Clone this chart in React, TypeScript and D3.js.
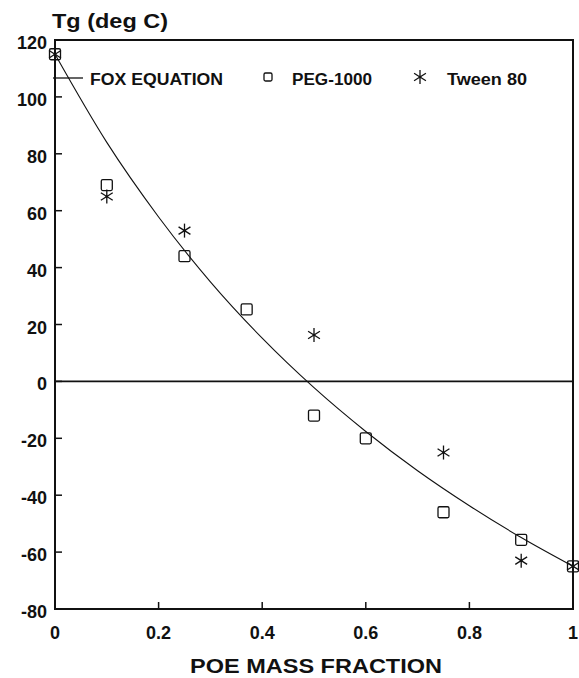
import React from "react";
import * as d3 from "d3";

// ---- data ----
const xTicks = [0, 0.2, 0.4, 0.6, 0.8, 1];
const xTickLabels = ["0", "0.2", "0.4", "0.6", "0.8", "1"];
const yTicks = [120, 100, 80, 60, 40, 20, 0, -20, -40, -60, -80];
const yTickLabels = ["120", "100", "80", "60", "40", "20", "0", "-20", "-40", "-60", "-80"];

const foxX = [0, 0.1, 0.2, 0.3, 0.4, 0.5, 0.6, 0.7, 0.8, 0.9, 1];
const foxY = [115, 84, 57.8, 35, 15.2, -2.2, -17.6, -31.4, -43.7, -54.9, -65];

const pegX = [0, 0.1, 0.25, 0.37, 0.5, 0.6, 0.75, 0.9, 1];
const pegY = [115, 69, 44, 25.3, -12, -20, -46, -55.7, -65];

const tweenX = [0, 0.1, 0.25, 0.5, 0.75, 0.9, 1];
const tweenY = [115, 65, 53, 16.3, -25, -63, -65];

const legendLabels = ["FOX EQUATION", "PEG-1000", "Tween 80"];
const yTitle = "Tg (deg C)";
const xTitle = "POE MASS FRACTION";

const W = 579;
const H = 678;
const M = { left: 55, right: 573, top: 40, bottom: 609 };
const FONT = "'Liberation Sans', Arial, Helvetica, sans-serif";

const Square = ({ x, y, s }: { x: number; y: number; s: number }) => (
  <rect x={x - s / 2} y={y - s / 2} width={s} height={s} rx={1.5} fill="none" stroke="#111" strokeWidth={1.3} />
);

const Star = ({ x, y, r }: { x: number; y: number; r: number }) => {
  const a = (58 * Math.PI) / 180;
  const dx = r * Math.sin(a);
  const dy = r * Math.cos(a);
  return (
    <g stroke="#111" strokeWidth={1.3}>
      <line x1={x} y1={y - r} x2={x} y2={y + r} />
      <line x1={x - dx} y1={y - dy} x2={x + dx} y2={y + dy} />
      <line x1={x - dx} y1={y + dy} x2={x + dx} y2={y - dy} />
      <circle cx={x} cy={y} r={1.3} fill="#111" stroke="none" />
    </g>
  );
};

export default function App() {
  const x = d3.scaleLinear().domain([0, 1]).range([M.left, M.right]);
  const y = d3.scaleLinear().domain([-80, 120]).range([M.bottom, M.top]);

  const foxPts: [number, number][] = foxX.map((v, i) => [v, foxY[i]]);
  const line = d3
    .line<[number, number]>()
    .x((d) => x(d[0]))
    .y((d) => y(d[1]))
    .curve(d3.curveMonotoneX);

  const legendY = 78;

  return (
    <svg
      width={W}
      height={H}
      style={{ position: "absolute", left: 0, top: 0, background: "#fff" }}
      fontFamily={FONT}
    >
      <rect x={0} y={0} width={W} height={H} fill="#fff" />

      {/* frame */}
      <rect
        x={M.left}
        y={M.top}
        width={M.right - M.left}
        height={M.bottom - M.top}
        fill="none"
        stroke="#111"
        strokeWidth={2}
      />

      {/* zero line */}
      <line x1={x(0)} x2={x(1)} y1={y(0)} y2={y(0)} stroke="#111" strokeWidth={1.8} />

      {/* y ticks */}
      {yTicks.map((t, i) => (
        <g key={"y" + i}>
          <line x1={M.left} x2={M.left + 7} y1={y(t)} y2={y(t)} stroke="#111" strokeWidth={1.5} />
          <text
            x={M.left - 8}
            y={y(t) + 3}
            textAnchor="end"
            dominantBaseline="central"
            fontSize={18}
            fontWeight="bold"
            fill="#111"
          >
            {yTickLabels[i]}
          </text>
        </g>
      ))}

      {/* x ticks */}
      {xTicks.map((t, i) => (
        <g key={"x" + i}>
          <line x1={x(t)} x2={x(t)} y1={M.bottom} y2={M.bottom - 7} stroke="#111" strokeWidth={1.5} />
          <text
            x={x(t)}
            y={633}
            textAnchor="middle"
            dominantBaseline="central"
            fontSize={18}
            fontWeight="bold"
            fill="#111"
          >
            {xTickLabels[i]}
          </text>
        </g>
      ))}

      {/* titles */}
      <text
        x={52}
        y={20}
        dominantBaseline="central"
        fontSize={21}
        fontWeight="bold"
        fill="#111"
        textLength={116}
        lengthAdjust="spacingAndGlyphs"
      >
        {yTitle}
      </text>
      <text
        x={(190 + 442) / 2}
        y={666}
        textAnchor="middle"
        dominantBaseline="central"
        fontSize={20}
        fontWeight="bold"
        fill="#111"
        textLength={252}
        lengthAdjust="spacingAndGlyphs"
      >
        {xTitle}
      </text>

      {/* Fox equation curve */}
      <path d={line(foxPts) || ""} fill="none" stroke="#111" strokeWidth={1.1} />

      {/* PEG-1000 */}
      {pegX.map((v, i) => (
        <Square key={"p" + i} x={x(v)} y={y(pegY[i])} s={11} />
      ))}

      {/* Tween 80 */}
      {tweenX.map((v, i) => (
        <Star key={"t" + i} x={x(v)} y={y(tweenY[i])} r={7} />
      ))}

      {/* legend */}
      <line x1={53} x2={83} y1={legendY} y2={legendY} stroke="#111" strokeWidth={1.3} />
      <text x={90} y={legendY + 1} dominantBaseline="central" fontSize={16} fontWeight="bold" fill="#111" textLength={133} lengthAdjust="spacingAndGlyphs">
        {legendLabels[0]}
      </text>
      <Square x={268} y={legendY - 1} s={8} />
      <text x={292} y={legendY + 1} dominantBaseline="central" fontSize={16} fontWeight="bold" fill="#111" textLength={80} lengthAdjust="spacingAndGlyphs">
        {legendLabels[1]}
      </text>
      <Star x={420} y={legendY - 1} r={7} />
      <text x={447} y={legendY + 1} dominantBaseline="central" fontSize={16} fontWeight="bold" fill="#111" textLength={80} lengthAdjust="spacingAndGlyphs">
        {legendLabels[2]}
      </text>
    </svg>
  );
}
